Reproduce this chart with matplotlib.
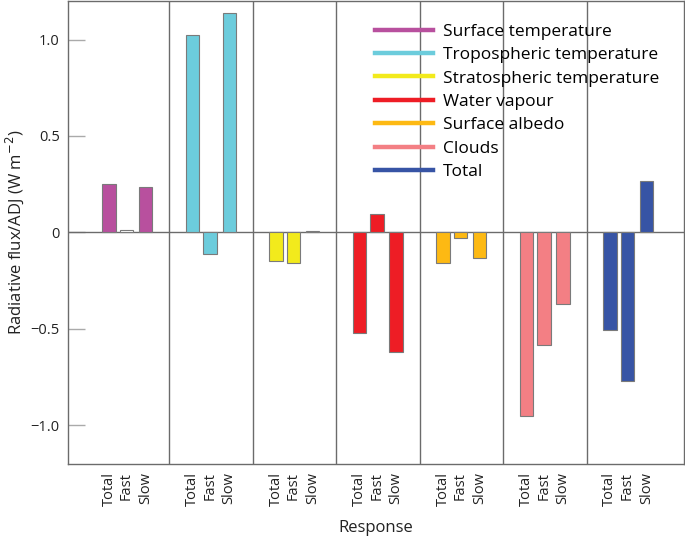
import numpy as np
import matplotlib.pyplot as plt

plt.rcParams['font.family'] = ['Open Sans', 'DejaVu Sans']

# Radiative flux per unit ADJ, kernels x (total, fast, slow)
components = ['Surface temperature', 'Tropospheric temperature', 'Stratospheric temperature',
              'Water vapour', 'Surface albedo', 'Clouds', 'Total']
colors = ['#B8509E', '#6CCCDC', '#F2EA1C', '#EE1D25', '#FDB913', '#F37F84', '#3754A5']
responses = ['Total', 'Fast', 'Slow']
total = [0.25, 1.024, -0.147, -0.523, -0.16, -0.951, -0.505]
fast = [0.015, -0.114, -0.157, 0.098, -0.031, -0.582, -0.77]
slow = [0.235, 1.135, 0.01, -0.62, -0.13, -0.37, 0.265]

offsets = [0.0, 0.21, 0.44]
width = 0.16
grey = '#6b6b6b'

fig = plt.figure(figsize=(6.85, 5.41), dpi=100)
ax = fig.add_axes([0.0993, 0.1423, 0.899, 0.856])

ticks, ticklabels = [], []
for i, c in enumerate(components):
    for off, vals, lab in zip(offsets, [total, fast, slow], responses):
        # near-zero bars show up as bare outlines in the original
        fc = colors[i] if abs(vals[i]) > 0.02 else 'white'
        ax.bar(i + off, vals[i], width=width, color=fc, edgecolor='#7a7a7a', linewidth=0.8, zorder=3)
        ticks.append(i + off)
        ticklabels.append(lab)
    ax.plot([], [], color=colors[i], lw=3.2, label=c)

# group dividers
for i in range(len(components) - 1):
    ax.axvline(i + 0.72, color=grey, lw=1.0, zorder=1)
ax.axhline(0, color=grey, lw=1.0, zorder=2)

ax.set_xlim(-0.491, 6.886)
ax.set_ylim(-1.2, 1.2)
ax.set_yticks([-1.0, -0.5, 0, 0.5, 1.0])
ax.set_yticklabels(['\u22121.0', '\u22120.5', '0', '0.5', '1.0'])
ax.set_xticks(ticks)
ax.set_xticklabels(ticklabels, rotation=90, fontsize=10.5, color='#222222')
ax.tick_params(axis='x', length=0, pad=6)
ax.tick_params(axis='y', direction='in', length=12, width=1, color='#aaaaaa', labelsize=10.5,
               labelcolor='#222222', pad=6)
for s in ax.spines.values():
    s.set_color(grey)
    s.set_linewidth(1.0)

ax.set_ylabel('Radiative flux/ADJ (W m$^{-2}$)', fontsize=12, color='#222222', labelpad=3)
ax.set_xlabel('Response', fontsize=12, color='#222222', labelpad=10)

ax.legend(loc='upper left', bbox_to_anchor=(0.485, 0.97), frameon=False, fontsize=12.5,
          handlelength=3.3, handletextpad=0.6, labelspacing=0.42, borderpad=0)

fig.savefig('out.png', dpi=100)
